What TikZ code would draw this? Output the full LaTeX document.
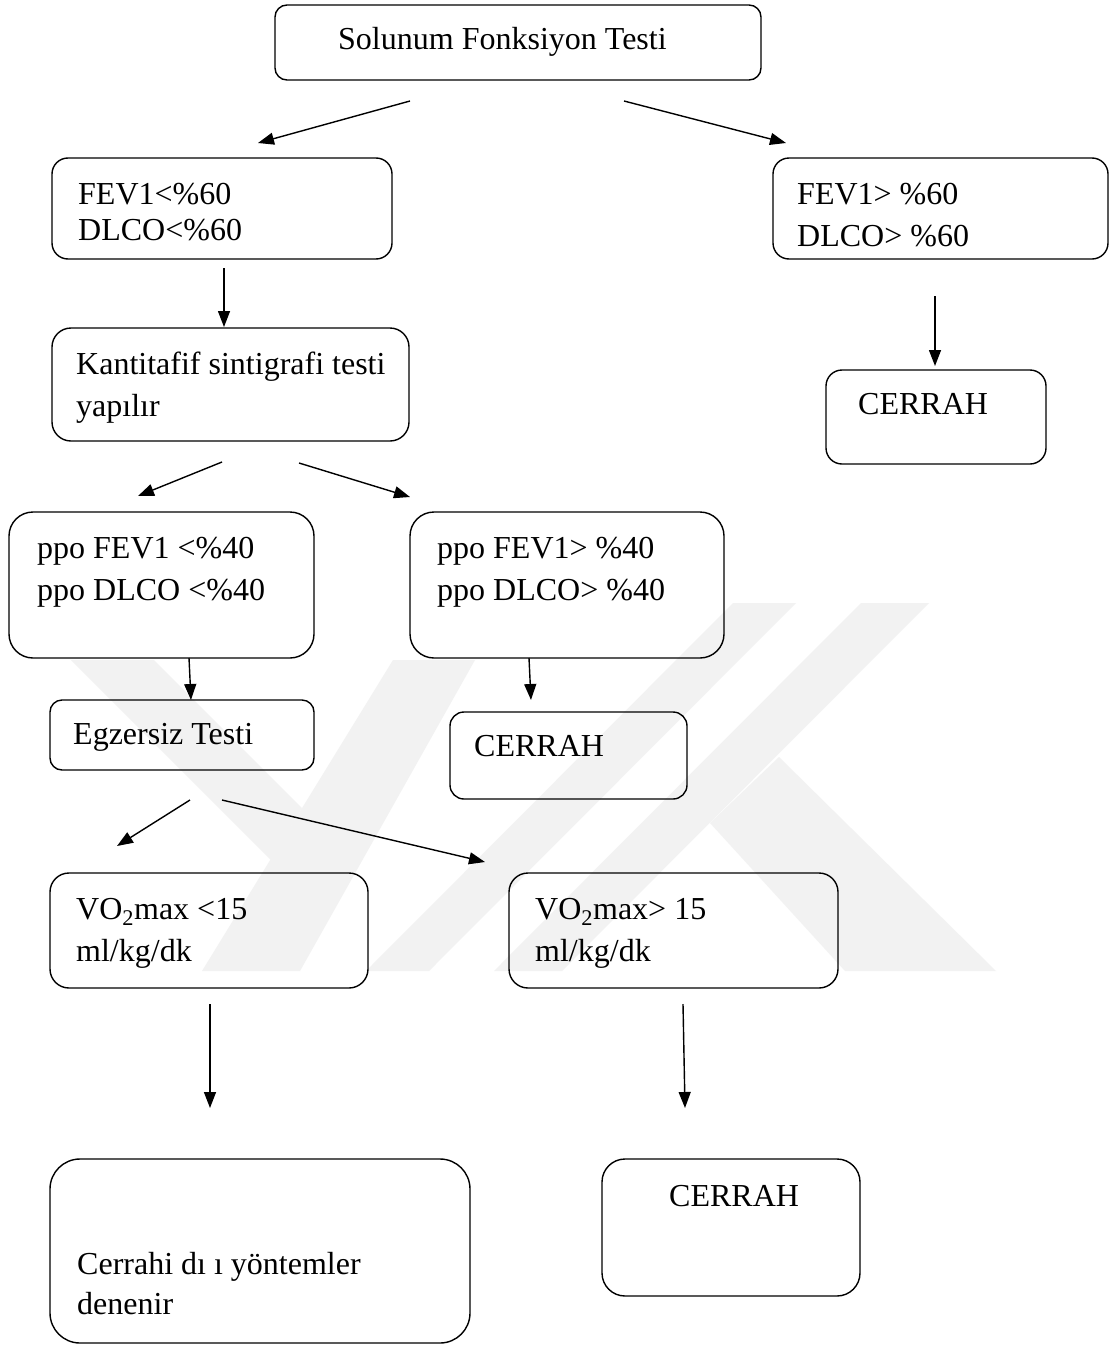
\documentclass[tikz,border=0pt]{standalone}
\usepackage{fontspec}
\setmainfont{Liberation Serif}
\usetikzlibrary{arrows.meta,calc}
\begin{document}
\begin{tikzpicture}[x=1pt,y=-1pt,
  box/.style={draw, line width=1.4pt, anchor=north west, inner sep=0pt, outer sep=0pt},
  txt/.style={anchor=base west, inner sep=0pt, font=\fontsize{32}{38}\selectfont},
  arr/.style={line width=1.4pt, -{Triangle[length=16pt,width=12pt]}},
  wm/.style={fill=black!5, draw=none}]
\useasboundingbox (0,0) rectangle (1111,1346);
\fill[white] (0,0) rectangle (1111,1346);
% watermark
\fill[wm] (71,660) -- (154,660) -- (302,808) -- (271,860) -- cycle;
\fill[wm] (393,660) -- (475,660) -- (300,971) -- (202,971) -- cycle;
\fill[wm] (733,603) -- (796,603) -- (429,971) -- (366,971) -- cycle;
\fill[wm] (861,603) -- (929,603) -- (562,971) -- (494,971) -- cycle;
\fill[wm] (779,757) -- (996,971) -- (845,971) -- (710,823) -- cycle;
% boxes
\node[box, rounded corners=12pt, minimum width=486pt, minimum height=75pt] (sft) at (275,5) {};
\node[box, rounded corners=16pt, minimum width=340pt, minimum height=101pt] (fl) at (52,158) {};
\node[box, rounded corners=16pt, minimum width=335pt, minimum height=101pt] (fg) at (773,158) {};
\node[box, rounded corners=19pt, minimum width=357pt, minimum height=113pt] (kan) at (52,328) {};
\node[box, rounded corners=16pt, minimum width=220pt, minimum height=94pt] (cr1) at (826,370) {};
\node[box, rounded corners=24pt, minimum width=305pt, minimum height=146pt] (pl) at (9,512) {};
\node[box, rounded corners=24pt, minimum width=314pt, minimum height=146pt] (pg) at (410,512) {};
\node[box, rounded corners=12pt, minimum width=264pt, minimum height=70pt] (egz) at (50,700) {};
\node[box, rounded corners=14pt, minimum width=237pt, minimum height=87pt] (cr2) at (450,712) {};
\node[box, rounded corners=19pt, minimum width=318pt, minimum height=115pt] (vl) at (50,873) {};
\node[box, rounded corners=19pt, minimum width=329pt, minimum height=115pt] (vg) at (509,873) {};
\node[box, rounded corners=30pt, minimum width=420pt, minimum height=184pt] (cdy) at (50,1159) {};
\node[box, rounded corners=23pt, minimum width=258pt, minimum height=137pt] (cr3) at (602,1159) {};
% texts
\node[txt] (tsft) at (338,49) {Solunum Fonksiyon Testi};
\node[txt] (tfl1) at (78,204) {FEV1<\%60};
\node[txt] (tfl2) at (78,240) {DLCO<\%60};
\node[txt] (tfg1) at (797,204) {FEV1> \%60};
\node[txt] (tfg2) at (797,246) {DLCO> \%60};
\node[txt] (tkan1) at (76,374) {Kantitafif sintigrafi testi};
\node[txt] (tkan2) at (76,416) {yapılır};
\node[txt] (tcr1) at (858,414) {CERRAH};
\node[txt] (tpl1) at (37,558) {ppo FEV1 <\%40};
\node[txt] (tpl2) at (37,600) {ppo DLCO <\%40};
\node[txt] (tpg1) at (437,558) {ppo FEV1> \%40};
\node[txt] (tpg2) at (437,600) {ppo DLCO> \%40};
\node[txt] (tegz) at (73,744) {Egzersiz Testi};
\node[txt] (tcr2) at (474,756) {CERRAH};
\node[txt] (tvl1) at (76,919) {VO\textsubscript{2}max <15};
\node[txt] (tvl2) at (76,961) {ml/kg/dk};
\node[txt] (tvg1) at (535,919) {VO\textsubscript{2}max> 15};
\node[txt] (tvg2) at (535,961) {ml/kg/dk};
\node[txt] (tcdy1) at (77,1274) {Cerrahi dı ı yöntemler};
\node[txt] (tcdy2) at (77,1314) {denenir};
\node[txt] (tcr3) at (669,1206) {CERRAH};
% arrows
\draw[arr] ($(sft.south)+(-108,21)$) -- ($(fl.north)+(36,-15)$);
\draw[arr] ($(sft.south)+(106,21)$) -- ($(fg.north)+(-154.5,-15)$);
\draw[arr] ($(fl.south)+(2,9)$) -- ($(kan.north)+(-6.5,-1)$);
\draw[arr] ($(fg.south)+(-5.5,37)$) -- ($(cr1.north)+(-1,-4)$);
\draw[arr] ($(kan.south)+(-8.5,21)$) -- ($(pl.north)+(-23.5,-16)$);
\draw[arr] ($(kan.south)+(68.5,22)$) -- ($(pg.north)+(-157,-15)$);
\draw[arr] ($(pl.south)+(27.5,0)$) -- ($(egz.north)+(9,0)$);
\draw[arr] ($(pg.south)+(-38,0)$) -- ($(cr2.north)+(-37.5,-12)$);
\draw[arr] ($(egz.south)+(8,30)$) -- ($(vl.north)+(-92,-27)$);
\draw[arr] ($(egz.south)+(40,30)$) -- ($(vg.north)+(-188.5,-11)$);
\draw[arr] ($(vl.south)+(1,16)$) -- ($(cdy.north)+(-50,-51)$);
\draw[arr] ($(vg.south)+(9.5,16)$) -- ($(cr3.north)+(-46,-51)$);
\end{tikzpicture}
\end{document}
